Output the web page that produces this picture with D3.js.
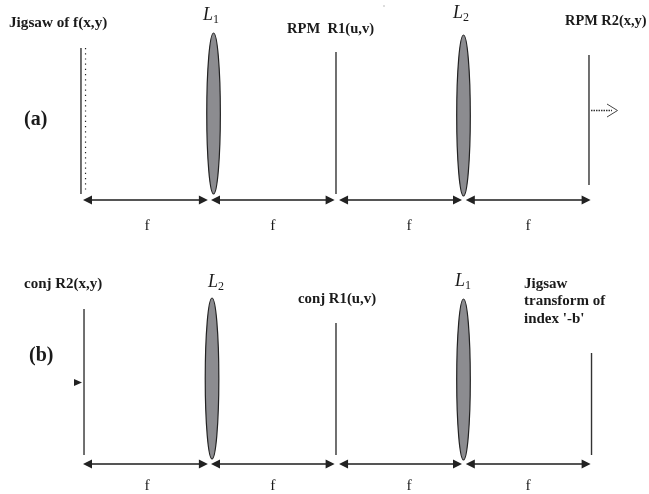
<!DOCTYPE html>
<html>
<head>
<meta charset="utf-8">
<script src="https://cdn.jsdelivr.net/npm/d3@7"></script>
<style>
  html, body { margin: 0; padding: 0; background: #fff; }
  svg { display: block; filter: blur(0.45px); }
  text { font-family: "Liberation Serif", serif; fill: #1a1a1a; white-space: pre; }
</style>
</head>
<body>
<div id="chart"></div>
<script>
// Values: distances along the bench in units of f, heights above the f axis
const spanLabel = "f";
const spanMid = [0.505, 1.497, 2.572, 3.511];
const spanStart = [0, 1.01, 2.02, 3.02];
const spanEnd = [0.985, 1.985, 2.99, 4.005];

const planesA = [-0.016, 1.996, 3.992];
const planesATop = [152, 148, 145];
const planesABottom = [6, 6, 15];
const planesB = [0.008, 1.996, 4.012];
const planesBTop = [155, 141, 111];
const planesBBottom = [9, 9, 9];

const lensesA = [1.03, 3.002];
const lensesATop = [167, 165];
const lensesABottom = [6, 4];
const lensesB = [1.018, 3.002];
const lensesBTop = [166, 165];
const lensesBBottom = [5, 4];
const lensesANames = ["1", "2"];
const lensesBNames = ["2", "1"];

const dottedPlane = [0.02, 152, 8];
const labelsB = ["Jigsaw", "transform of", "index '-b'"];

const width = 649;
const height = 494;
const axisYA = 200;
const axisYB = 464;

const x = d3.scaleLinear([0, 4], [83, 590]);
const h = d3.scaleLinear([0, 170], [0, -170]);

const svg = d3.select("#chart")
  .append("svg")
  .attr("width", width)
  .attr("height", height);

function drawPanel(axisY, labelDy, planes, planesTop, planesBottom, lenses, lensesTop, lensesBottom) {
  const g = svg.append("g").attr("transform", `translate(0, ${axisY})`);

  // thin vertical planes
  g.selectAll("line.plane")
    .data(planes)
    .join("line")
    .attr("class", "plane")
    .attr("x1", d => x(d))
    .attr("x2", d => x(d))
    .attr("y1", (d, i) => h(planesTop[i]))
    .attr("y2", (d, i) => h(planesBottom[i]))
    .attr("stroke", "#333")
    .attr("stroke-width", 1.4);

  // lenses
  g.selectAll("ellipse")
    .data(lenses)
    .join("ellipse")
    .attr("cx", d => x(d))
    .attr("cy", (d, i) => (h(lensesTop[i]) + h(lensesBottom[i])) / 2)
    .attr("rx", 6.8)
    .attr("ry", (d, i) => (lensesTop[i] - lensesBottom[i]) / 2)
    .attr("fill", "#8c8c90")
    .attr("stroke", "#222")
    .attr("stroke-width", 1.2);

  // f spans with heads on both ends
  g.selectAll("line.span")
    .data(spanStart)
    .join("line")
    .attr("class", "span")
    .attr("x1", d => x(d) + 4)
    .attr("x2", (d, i) => x(spanEnd[i]) - 4)
    .attr("y1", 0)
    .attr("y2", 0)
    .attr("stroke", "#555")
    .attr("stroke-width", 2);

  const head = (tip, dir) => `M${tip},0L${tip + dir * 9},-4.5L${tip + dir * 9},4.5Z`;
  g.selectAll("path.left")
    .data(spanStart)
    .join("path")
    .attr("class", "left")
    .attr("d", d => head(x(d), 1))
    .attr("fill", "#222");
  g.selectAll("path.right")
    .data(spanEnd)
    .join("path")
    .attr("class", "right")
    .attr("d", d => head(x(d), -1))
    .attr("fill", "#222");

  g.selectAll("text.span")
    .data(spanMid)
    .join("text")
    .attr("class", "span")
    .attr("x", d => x(d))
    .attr("y", labelDy)
    .attr("text-anchor", "middle")
    .attr("font-size", 15.5)
    .text(spanLabel);

  return g;
}

drawPanel(axisYA, 29.5, planesA, planesATop, planesABottom, lensesA, lensesATop, lensesABottom);
drawPanel(axisYB, 26, planesB, planesBTop, planesBBottom, lensesB, lensesBTop, lensesBBottom);

// dotted plane in front of the jigsaw input
svg.append("line")
  .attr("x1", x(dottedPlane[0]))
  .attr("x2", x(dottedPlane[0]))
  .attr("y1", axisYA + h(dottedPlane[1]))
  .attr("y2", axisYA + h(dottedPlane[2]))
  .attr("stroke", "#222")
  .attr("stroke-width", 1.2)
  .attr("stroke-dasharray", "1.2 4");

// output arrow of panel (a)
svg.append("line")
  .attr("x1", 591).attr("x2", 612)
  .attr("y1", 110.5).attr("y2", 110.5)
  .attr("stroke", "#333")
  .attr("stroke-width", 1.5)
  .attr("stroke-dasharray", "1.5 1");
svg.append("path")
  .attr("d", "M607,104L617.5,110.5L607,117")
  .attr("fill", "none")
  .attr("stroke", "#444")
  .attr("stroke-width", 1);

// input arrow of panel (b)
svg.append("path")
  .attr("d", "M74,379L82,382.5L74,386Z")
  .attr("fill", "#222");

// speck in the scan
svg.append("rect")
  .attr("x", 383).attr("y", 5.5)
  .attr("width", 2).attr("height", 1)
  .attr("fill", "#bbb");

function label(txt, px, py, size, weight) {
  return svg.append("text")
    .attr("x", px)
    .attr("y", py)
    .attr("font-size", size)
    .attr("font-weight", weight || "bold")
    .text(txt);
}

function lensLabel(name, px, py) {
  const t = svg.append("text")
    .attr("x", px)
    .attr("y", py)
    .attr("font-size", 18)
    .attr("font-style", "italic")
    .attr("fill", "#333");
  t.append("tspan").text("L");
  t.append("tspan")
    .attr("dy", 3)
    .attr("font-size", 12)
    .attr("font-style", "normal")
    .text(name);
}

label("Jigsaw of f(x,y)", 9, 27, 15.2);
label("RPM  R1(u,v)", 287, 33, 14.6);
label("RPM R2(x,y)", 565, 25, 14.4);
label("(a)", 24, 125, 20);
label("conj R2(x,y)", 24, 288, 15);
label("conj R1(u,v)", 298, 303, 14.8);
label("(b)", 29, 361, 20);
labelsB.forEach((s, i) => label(s, 524, 288 + i * 17.3, 15));

lensLabel(lensesANames[0], 203, 20);
lensLabel(lensesANames[1], 453, 18);
lensLabel(lensesBNames[0], 208, 287);
lensLabel(lensesBNames[1], 455, 286);
</script>
</body>
</html>
